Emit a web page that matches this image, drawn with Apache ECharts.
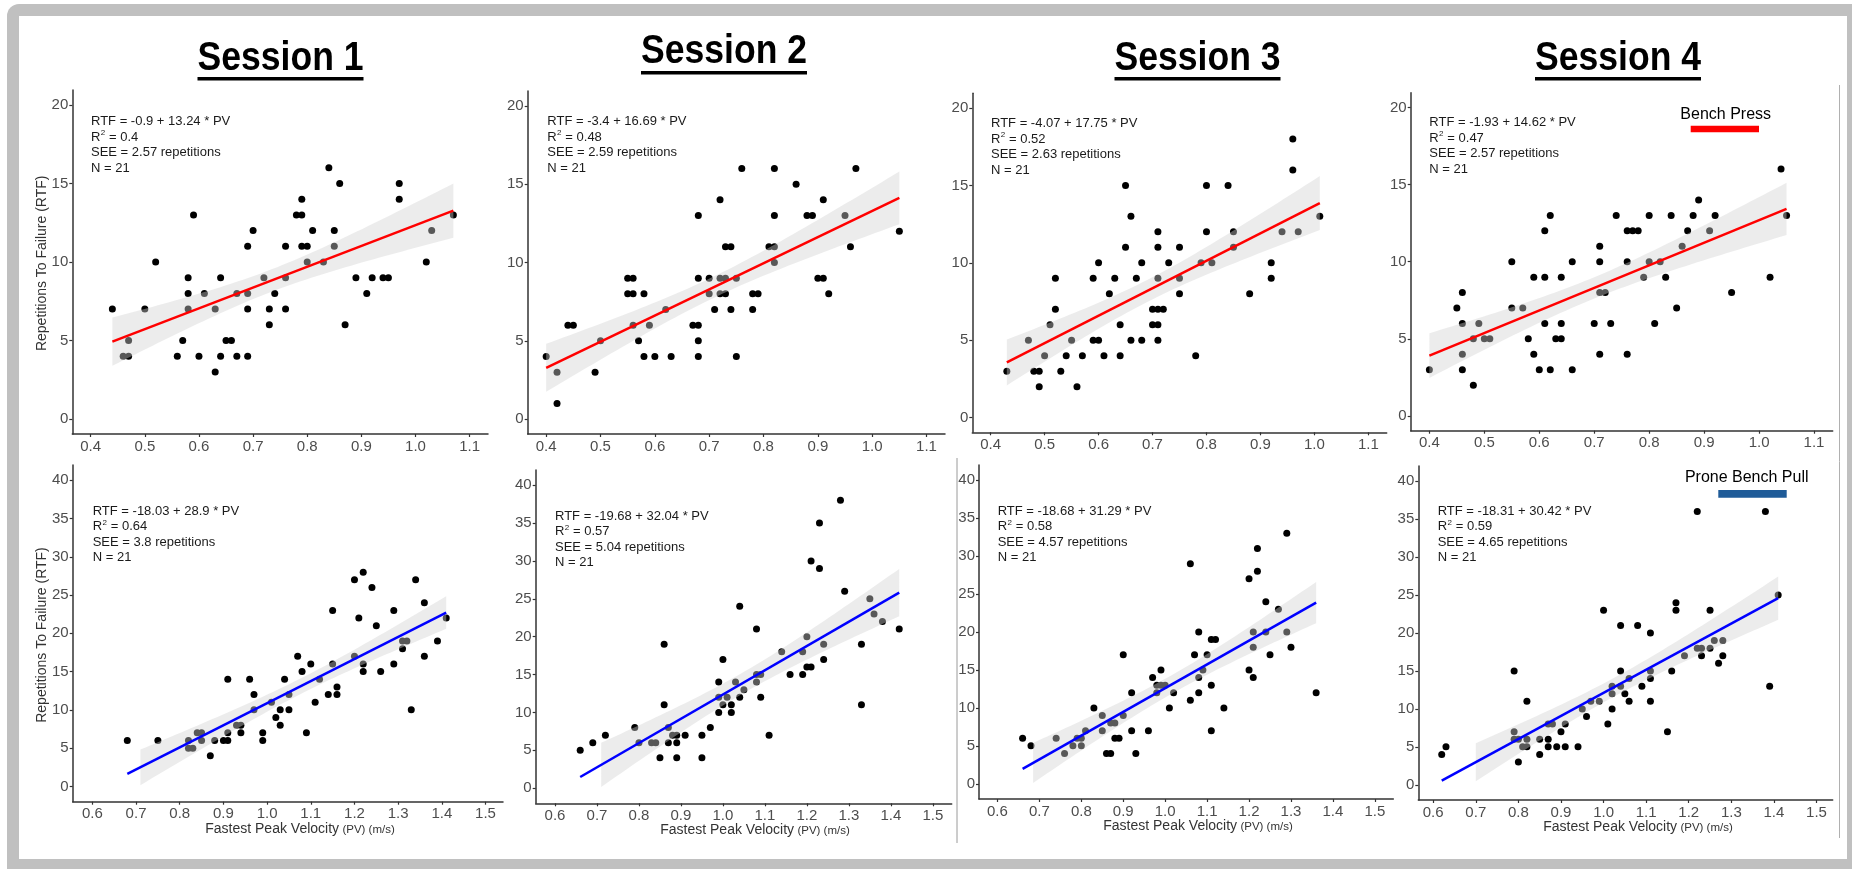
<!DOCTYPE html>
<html>
<head>
<meta charset="utf-8">
<script src="https://cdn.jsdelivr.net/npm/echarts@6/dist/echarts.min.js"></script>
<style>
  html, body { margin: 0; padding: 0; background: #fff; overflow: hidden; width: 1852px; height: 869px; }
  #frame { position: absolute; left: 7px; top: 4px; width: 1870px; height: 890px; background: #c0c0c0; border-radius: 12px; }
  #sheet { position: absolute; left: 19px; top: 16px; width: 1828px; height: 843px; background: #fff; }
  #chart { position: absolute; left: 0; top: 0; width: 1852px; height: 869px; }
</style>
</head>
<body>
<div id="frame"></div>
<div id="sheet"></div>
<div id="chart"></div>
<script>
// ---------- data: fastest peak velocity (m/s) vs repetitions to failure ----------
const sessions = ['Session 1', 'Session 2', 'Session 3', 'Session 4'];

const benchXTicks = [0.4, 0.5, 0.6, 0.7, 0.8, 0.9, 1.0, 1.1];
const benchYTicks = [0, 5, 10, 15, 20];
const pullXTicks = [0.6, 0.7, 0.8, 0.9, 1.0, 1.1, 1.2, 1.3, 1.4, 1.5];
const pullYTicks = [0, 5, 10, 15, 20, 25, 30, 35, 40];

// Bench press, [PV, RTF]
const benchS1 = [[0.44,7],[0.46,4],[0.47,4],[0.47,5],[0.50,7],[0.52,10],[0.56,4],[0.57,5],[0.58,9],[0.58,8],[0.58,7],[0.59,13],[0.60,4],[0.61,8],[0.63,7],[0.63,3],[0.64,9],[0.64,4],[0.65,5],[0.66,5],[0.67,8],[0.67,4],[0.69,11],[0.69,8],[0.69,7],[0.69,4],[0.70,12],[0.72,9],[0.73,7],[0.73,6],[0.74,8],[0.76,11],[0.76,9],[0.76,7],[0.78,13],[0.79,13],[0.79,14],[0.79,11],[0.80,11],[0.80,10],[0.81,12],[0.83,10],[0.84,16],[0.85,12],[0.85,11],[0.86,15],[0.87,6],[0.89,9],[0.91,8],[0.92,9],[0.94,9],[0.95,9],[0.97,15],[0.97,14],[1.02,10],[1.03,12],[1.07,13]];
const benchS2 = [[0.40,4],[0.42,3],[0.42,1],[0.44,6],[0.45,6],[0.49,3],[0.50,5],[0.55,9],[0.56,9],[0.55,8],[0.56,8],[0.56,6],[0.57,5],[0.58,8],[0.58,4],[0.59,6],[0.60,4],[0.62,7],[0.63,4],[0.67,6],[0.68,6],[0.68,13],[0.68,9],[0.68,5],[0.68,4],[0.70,9],[0.70,8],[0.71,7],[0.72,14],[0.72,9],[0.72,8],[0.73,9],[0.73,11],[0.74,11],[0.73,8],[0.74,7],[0.75,9],[0.75,4],[0.76,16],[0.78,8],[0.79,8],[0.78,7],[0.81,11],[0.82,11],[0.82,16],[0.82,13],[0.82,10],[0.86,15],[0.88,13],[0.89,13],[0.90,9],[0.91,9],[0.91,14],[0.92,8],[0.95,13],[0.96,11],[0.97,16],[1.05,12]];
const benchS3 = [[0.43,3],[0.47,5],[0.48,3],[0.49,3],[0.49,2],[0.50,4],[0.51,6],[0.52,9],[0.52,7],[0.53,3],[0.54,4],[0.55,5],[0.56,2],[0.57,4],[0.59,9],[0.59,5],[0.60,10],[0.60,5],[0.61,4],[0.62,8],[0.63,9],[0.64,6],[0.64,4],[0.65,15],[0.65,11],[0.66,13],[0.66,5],[0.67,9],[0.68,10],[0.68,5],[0.70,7],[0.70,6],[0.71,12],[0.71,11],[0.71,9],[0.71,7],[0.71,6],[0.71,5],[0.72,7],[0.73,10],[0.75,11],[0.75,9],[0.75,8],[0.78,4],[0.79,10],[0.80,15],[0.80,12],[0.81,10],[0.84,15],[0.85,12],[0.85,11],[0.88,8],[0.92,10],[0.92,9],[0.94,12],[0.96,18],[0.96,16],[0.97,12],[1.01,13]];
const benchS4 = [[0.40,3],[0.45,7],[0.46,8],[0.46,6],[0.46,4],[0.46,3],[0.48,5],[0.48,2],[0.49,6],[0.50,5],[0.51,5],[0.55,10],[0.55,7],[0.57,7],[0.58,5],[0.59,9],[0.59,4],[0.60,3],[0.61,12],[0.61,9],[0.61,6],[0.62,13],[0.62,3],[0.63,5],[0.64,9],[0.64,6],[0.64,5],[0.66,10],[0.66,3],[0.70,6],[0.71,11],[0.71,10],[0.71,8],[0.71,4],[0.72,8],[0.73,6],[0.74,13],[0.76,12],[0.77,12],[0.78,12],[0.76,10],[0.76,4],[0.79,9],[0.80,13],[0.80,10],[0.81,6],[0.82,10],[0.83,9],[0.84,13],[0.85,7],[0.86,11],[0.87,12],[0.88,13],[0.89,14],[0.91,12],[0.92,13],[0.95,8],[1.02,9],[1.04,16],[1.05,13]];

// Prone bench pull, [PV, RTF]
const pullS1 = [[0.68,6],[0.75,6],[0.82,6],[0.82,5],[0.83,5],[0.84,7],[0.85,7],[0.85,6],[0.87,4],[0.88,6],[0.90,6],[0.91,6],[0.91,7],[0.91,14],[0.93,8],[0.94,8],[0.94,7],[0.96,14],[0.97,12],[0.97,10],[0.99,7],[0.99,6],[1.01,11],[1.02,9],[1.03,10],[1.03,8],[1.04,14],[1.05,12],[1.05,10],[1.07,17],[1.08,15],[1.09,7],[1.10,16],[1.11,11],[1.12,14],[1.14,12],[1.15,23],[1.15,16],[1.16,13],[1.16,12],[1.20,27],[1.20,17],[1.21,22],[1.22,28],[1.22,16],[1.22,15],[1.24,26],[1.25,21],[1.26,15],[1.29,23],[1.29,16],[1.31,18],[1.31,19],[1.32,19],[1.33,10],[1.34,27],[1.36,24],[1.36,17],[1.39,19],[1.41,22]];
const pullS2 = [[0.66,5],[0.69,6],[0.72,7],[0.79,8],[0.80,6],[0.83,6],[0.84,6],[0.85,4],[0.86,19],[0.86,11],[0.87,8],[0.87,6],[0.88,7],[0.89,7],[0.89,6],[0.89,4],[0.91,7],[0.95,7],[0.95,4],[0.97,8],[0.99,14],[0.99,12],[0.99,10],[1.00,17],[1.00,11],[1.01,12],[1.02,11],[1.02,10],[1.03,14],[1.04,24],[1.04,12],[1.05,13],[1.08,21],[1.08,15],[1.08,14],[1.09,15],[1.09,12],[1.11,7],[1.14,18],[1.16,15],[1.19,18],[1.19,15],[1.20,20],[1.20,16],[1.21,16],[1.21,30],[1.23,35],[1.23,29],[1.24,19],[1.24,17],[1.28,38],[1.29,26],[1.33,19],[1.33,11],[1.35,25],[1.36,23],[1.38,22],[1.42,21]];
const pullS3 = [[0.66,6],[0.68,5],[0.74,6],[0.76,4],[0.78,5],[0.79,6],[0.80,6],[0.80,5],[0.81,7],[0.83,10],[0.85,9],[0.85,7],[0.86,4],[0.87,8],[0.87,4],[0.88,8],[0.88,6],[0.89,6],[0.90,17],[0.90,9],[0.92,12],[0.92,7],[0.93,4],[0.96,7],[0.97,14],[0.98,12],[0.98,13],[0.99,15],[0.99,13],[1.00,13],[1.01,10],[1.02,12],[1.06,11],[1.06,29],[1.07,17],[1.08,20],[1.08,14],[1.08,12],[1.09,15],[1.10,17],[1.11,19],[1.12,19],[1.11,13],[1.11,7],[1.14,10],[1.20,27],[1.20,15],[1.21,20],[1.21,18],[1.21,14],[1.22,31],[1.22,28],[1.24,24],[1.24,20],[1.25,17],[1.27,23],[1.29,33],[1.29,20],[1.30,18],[1.36,12]];
const pullS4 = [[0.62,4],[0.63,5],[0.79,7],[0.79,15],[0.79,6],[0.80,6],[0.80,3],[0.81,5],[0.82,5],[0.82,6],[0.82,11],[0.85,6],[0.85,4],[0.87,8],[0.88,8],[0.87,6],[0.87,5],[0.89,5],[0.90,7],[0.91,8],[0.91,5],[0.94,5],[0.95,10],[0.96,9],[0.97,11],[0.99,11],[1.00,23],[1.01,8],[1.02,13],[1.02,12],[1.02,10],[1.04,21],[1.04,15],[1.04,13],[1.05,12],[1.06,14],[1.06,11],[1.08,21],[1.09,13],[1.11,20],[1.11,15],[1.11,14],[1.11,11],[1.15,7],[1.16,15],[1.17,24],[1.17,23],[1.19,17],[1.22,36],[1.22,18],[1.23,18],[1.23,17],[1.25,23],[1.25,18],[1.26,19],[1.27,16],[1.28,19],[1.28,17],[1.38,36],[1.39,13],[1.41,25]];

// Regression summaries (RTF = intercept + slope * PV)
const benchIntercept = [-0.9, -3.4, -4.07, -1.93];
const benchSlope = [13.24, 16.69, 17.75, 14.62];
const benchR2 = [0.4, 0.48, 0.52, 0.47];
const benchSEE = [2.57, 2.59, 2.63, 2.57];
const pullIntercept = [-18.03, -19.68, -18.68, -18.31];
const pullSlope = [28.9, 32.04, 31.29, 30.42];
const pullR2 = [0.64, 0.57, 0.58, 0.59];
const pullSEE = [3.8, 5.04, 4.57, 4.65];
const sampleN = 21;
// shaded band of the pull panels begins at these PV values
const pullBandFrom = [0.71, 0.71, 0.685, 0.70];

// ---------- layout ----------
const FONT = '"Liberation Sans", Arial, Helvetica, sans-serif';
const NARROW = '"Liberation Sans Narrow", "Arial Narrow", "Liberation Sans", Arial, sans-serif';
const INK = '#1a1a1a';
const AXIS_COLOR = '#333333';
const TICK_TEXT = '#4d4d4d';
const BAND_FILL = 'rgba(209,209,209,0.42)';
const T_CRIT = 2.0;

const gridBoxes = [
  { left: 72.3,   top: 90,   width: 415.7, height: 344 },
  { left: 527.7,  top: 91,   width: 417.3, height: 343 },
  { left: 972.3,  top: 93.3, width: 414.4, height: 339 },
  { left: 1410.7, top: 92.7, width: 422,   height: 338 },
  { left: 72.7,   top: 465,  width: 430.3, height: 336.7 },
  { left: 535.7,  top: 470,  width: 416,   height: 333.3 },
  { left: 979,    top: 465,  width: 414.3, height: 334 },
  { left: 1418.3, top: 466,  width: 414.4, height: 334 }
];
const xExtents = [[0.366,1.134],[0.366,1.134],[0.366,1.134],[0.366,1.134],[0.555,1.540],[0.554,1.545],[0.556,1.544],[0.565,1.538]];
const yExtents = [[-0.95,20.95],[-0.95,20.95],[-0.95,20.95],[-0.95,20.95],[-2,42],[-2,42],[-2,42],[-2,42]];
const notePos = [[91,121.7],[547.3,121.7],[991,123.7],[1429.3,122.7],[92.7,511],[555,516],[997.7,511],[1437.7,511]];
const titlePos = [[280.5,59,77],[724,52,71],[1197.5,59,77],[1618,59,77]];
const xTitlePos = [[300,828],[755,829],[1198,825],[1638,825.7]];

const benchPoints = [benchS1, benchS2, benchS3, benchS4];
const pullPoints = [pullS1, pullS2, pullS3, pullS4];

const panels = [];
for (let s = 0; s < 4; s++) {
  panels.push({ pts: benchPoints[s], a: benchIntercept[s], b: benchSlope[s], r2: benchR2[s], see: benchSEE[s],
    color: '#ff0000', xTicks: benchXTicks, yTicks: benchYTicks, bandFrom: null });
}
for (let s = 0; s < 4; s++) {
  panels.push({ pts: pullPoints[s], a: pullIntercept[s], b: pullSlope[s], r2: pullR2[s], see: pullSEE[s],
    color: '#0000ff', xTicks: pullXTicks, yTicks: pullYTicks, bandFrom: pullBandFrom[s] });
}

// 95% confidence band of the fitted mean, from the plotted points
function confidenceBand(pts, a, b, from, to) {
  const n = pts.length;
  const xm = pts.reduce((acc, p) => acc + p[0], 0) / n;
  let sxx = 0, sse = 0;
  pts.forEach(p => {
    sxx += (p[0] - xm) * (p[0] - xm);
    const r = p[1] - (a + b * p[0]);
    sse += r * r;
  });
  const sres = Math.sqrt(sse / (n - 2));
  const upper = [], lower = [];
  const steps = 60;
  for (let k = 0; k <= steps; k++) {
    const x = from + (to - from) * k / steps;
    const fit = a + b * x;
    const h = T_CRIT * sres * Math.sqrt(1 / n + (x - xm) * (x - xm) / sxx);
    upper.push([x, fit + h]);
    lower.push([x, fit - h]);
  }
  return { upper, lower };
}

const measureCtx = document.createElement('canvas').getContext('2d');
function textWidth(str, size, family, weight) {
  measureCtx.font = (weight || 'normal') + ' ' + size + 'px ' + family;
  return measureCtx.measureText(str).width;
}

const grids = [], xAxes = [], yAxes = [], series = [], elements = [];

panels.forEach((p, i) => {
  grids.push(Object.assign({ containLabel: false, outerBoundsMode: 'none' }, gridBoxes[i]));
  xAxes.push({
    type: 'value', gridIndex: i, min: xExtents[i][0], max: xExtents[i][1],
    axisLine: { show: true, onZero: false, lineStyle: { color: AXIS_COLOR, width: 1.5 } },
    axisTick: { show: true, customValues: p.xTicks, length: 3, lineStyle: { color: AXIS_COLOR, width: 1.2 } },
    axisLabel: { customValues: p.xTicks, formatter: v => Number(v).toFixed(1), color: TICK_TEXT,
      fontSize: 15, fontFamily: FONT, margin: 5 },
    splitLine: { show: false }
  });
  yAxes.push({
    type: 'value', gridIndex: i, min: yExtents[i][0], max: yExtents[i][1],
    axisLine: { show: true, onZero: false, lineStyle: { color: AXIS_COLOR, width: 1.5 } },
    axisTick: { show: true, customValues: p.yTicks, length: 3, lineStyle: { color: AXIS_COLOR, width: 1.2 } },
    axisLabel: { customValues: p.yTicks, formatter: v => String(Math.round(v)), color: TICK_TEXT,
      fontSize: 15, fontFamily: FONT, margin: 4 },
    splitLine: { show: false }
  });

  const xs = p.pts.map(d => d[0]);
  const xLo = Math.min.apply(null, xs), xHi = Math.max.apply(null, xs);
  const band = confidenceBand(p.pts, p.a, p.b, p.bandFrom != null ? p.bandFrom : xLo, xHi);

  series.push({
    type: 'scatter', xAxisIndex: i, yAxisIndex: i, z: 2, silent: true,
    symbol: 'circle', symbolSize: 7, itemStyle: { color: '#000', opacity: 1 }, data: p.pts
  });
  series.push({
    type: 'custom', xAxisIndex: i, yAxisIndex: i, z: 3, silent: true,
    data: [[xLo, p.a + p.b * xLo]],
    renderItem: (params, api) => {
      const pts = band.upper.map(q => api.coord(q))
        .concat(band.lower.slice().reverse().map(q => api.coord(q)));
      return { type: 'polygon', shape: { points: pts }, style: { fill: BAND_FILL } };
    }
  });
  series.push({
    type: 'line', xAxisIndex: i, yAxisIndex: i, z: 4, silent: true, symbol: 'none',
    lineStyle: { color: p.color, width: 2.5 },
    data: [[xLo, p.a + p.b * xLo], [xHi, p.a + p.b * xHi]]
  });

  // regression summary text
  const [nx, ny] = notePos[i];
  const gap = 15.5;
  const txt = (str, x, y, size) => ({
    type: 'text', x: x, y: y, silent: true,
    style: { text: str, fontSize: size || 13, fontFamily: FONT, fill: INK,
      align: 'left', textAlign: 'left', verticalAlign: 'middle', textVerticalAlign: 'middle' }
  });
  elements.push(txt('RTF = ' + p.a + ' + ' + p.b + ' * PV', nx, ny));
  const wR = textWidth('R', 13, FONT);
  const wSup = textWidth('2', 8, FONT);
  elements.push(txt('R', nx, ny + gap));
  elements.push(txt('2', nx + wR + 0.3, ny + gap - 4, 8));
  elements.push(txt(' = ' + p.r2, nx + wR + wSup + 0.6, ny + gap));
  elements.push(txt('SEE = ' + p.see + ' repetitions', nx, ny + 2 * gap));
  elements.push(txt('N = ' + sampleN, nx, ny + 3 * gap));
});

// session titles, underlined
sessions.forEach((name, s) => {
  const [cx, cy, uy] = titlePos[s];
  const targetW = 166;
  const w = textWidth(name, 40, NARROW, 'bold');
  elements.push({
    type: 'text', x: cx, y: cy, scaleX: targetW / w, silent: true,
    style: { text: name, fontSize: 40, fontWeight: 'bold', fontFamily: NARROW, fill: '#000',
      align: 'center', textAlign: 'center', verticalAlign: 'middle', textVerticalAlign: 'middle' }
  });
  elements.push({ type: 'rect', silent: true, shape: { x: cx - targetW / 2, y: uy, width: targetW, height: 3.5 },
    style: { fill: '#000' } });
});

// axis titles
[[41.7, 263.3], [41.7, 635]].forEach(([x, y]) => {
  elements.push({
    type: 'text', x: x, y: y, rotation: Math.PI / 2, silent: true,
    style: { text: 'Repetitions To Failure (RTF)', fontSize: 14, fontFamily: FONT, fill: '#333',
      align: 'center', textAlign: 'center', verticalAlign: 'middle', textVerticalAlign: 'middle' }
  });
});
xTitlePos.forEach(([x, y]) => {
  elements.push({
    type: 'text', x: x, y: y, silent: true,
    style: {
      text: '{a|Fastest Peak Velocity} {b|(PV) (m/s)}',
      rich: {
        a: { fontSize: 14, fontFamily: FONT, fill: '#333', color: '#333', verticalAlign: 'bottom', lineHeight: 16 },
        b: { fontSize: 11.5, fontFamily: FONT, fill: '#333', color: '#333', verticalAlign: 'bottom', lineHeight: 15 }
      },
      align: 'center', textAlign: 'center', verticalAlign: 'middle', textVerticalAlign: 'middle'
    }
  });
});

// exercise keys
elements.push({
  type: 'text', x: 1725.7, y: 115, silent: true,
  style: { text: 'Bench Press', fontSize: 16, fontFamily: FONT, fill: '#000',
    align: 'center', textAlign: 'center', verticalAlign: 'middle', textVerticalAlign: 'middle' }
});
elements.push({ type: 'rect', silent: true, shape: { x: 1690.7, y: 125.7, width: 68.3, height: 6.6 }, style: { fill: '#ff0000' } });
elements.push({
  type: 'text', x: 1746.7, y: 477.3, silent: true,
  style: { text: 'Prone Bench Pull', fontSize: 16, fontFamily: FONT, fill: '#000',
    align: 'center', textAlign: 'center', verticalAlign: 'middle', textVerticalAlign: 'middle' }
});
elements.push({ type: 'rect', silent: true, shape: { x: 1718.3, y: 490, width: 68.4, height: 7.7 }, style: { fill: '#1f5b98' } });

// thin panel dividers
elements.push({ type: 'line', silent: true, shape: { x1: 957, y1: 458, x2: 957, y2: 843 }, style: { stroke: '#9a9a9a', lineWidth: 1 } });
elements.push({ type: 'line', silent: true, shape: { x1: 1839.5, y1: 85, x2: 1839.5, y2: 838 }, style: { stroke: '#b0b0b0', lineWidth: 1 } });

const chart = echarts.init(document.getElementById('chart'), null, { renderer: 'canvas' });
chart.setOption({
  animation: false,
  backgroundColor: 'transparent',
  grid: grids,
  xAxis: xAxes,
  yAxis: yAxes,
  series: series,
  graphic: { elements: elements }
});
</script>
</body>
</html>
